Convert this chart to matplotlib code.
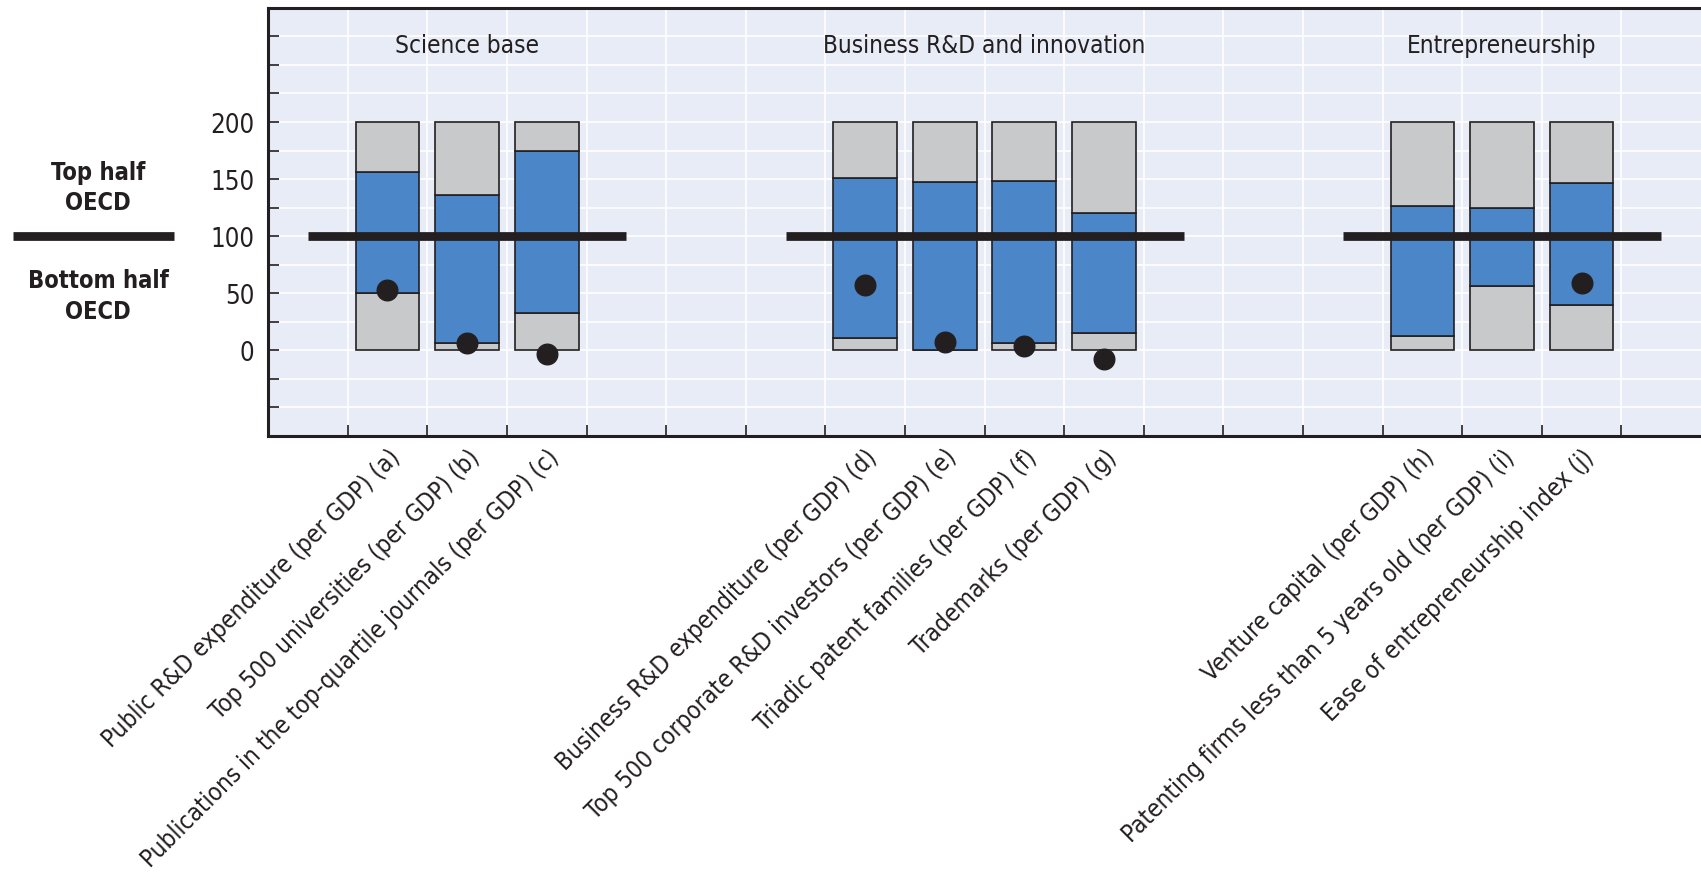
import numpy as np
import matplotlib
matplotlib.use("Agg")
import matplotlib.pyplot as plt
import matplotlib.transforms as mtransforms
from matplotlib.lines import Line2D

plt.rcParams['font.family'] = ['Liberation Sans Narrow', 'DejaVu Sans']
plt.rcParams['font.stretch'] = 'condensed'

# indicators, grouped in three blocks
labels = [
    "Public R&D expenditure (per GDP) (a)",
    "Top 500 universities (per GDP) (b)",
    "Publications in the top-quartile journals (per GDP) (c)",
    "Business R&D expenditure (per GDP) (d)",
    "Top 500 corporate R&D investors (per GDP) (e)",
    "Triadic patent families (per GDP) (f)",
    "Trademarks (per GDP) (g)",
    "Venture capital (per GDP) (h)",
    "Patenting firms less than 5 years old (per GDP) (i)",
    "Ease of entrepreneurship index (j)",
]
slots = [0, 1, 2, 6, 7, 8, 9, 13, 14, 15]

# blue range inside the 0-200 band, and the country value
low = [50, 6.7, 32.4, 11.1, 0, 6.1, 15.5, 12.5, 56.3, 40]
high = [156.3, 135.9, 174.9, 151, 147.5, 148.7, 120, 126.2, 124.8, 146.6]
country = [52.8, 6.7, -3.5, 57.1, 7.6, 3.8, -7.3, np.nan, np.nan, 59.2]

groups = ["Science base", "Business R&D and innovation", "Entrepreneurship"]
group_span = [(0, 3), (6, 10), (13, 16)]
scale_max = 200
median = 100

bg = "#E8ECF6"
blue = "#4A86C8"
grey = "#C8C9CB"
ink = "#231F20"

fig = plt.figure(figsize=(17.01, 8.78), dpi=100)
ax = fig.add_axes([0.1576, 0.5023, 0.8424, 0.4877])
ax.set_facecolor(bg)

x = np.array(slots) + 0.5
low = np.array(low)
high = np.array(high)
w = 0.8
ax.bar(x, low, width=w, color=grey, edgecolor=ink, linewidth=1.2, zorder=3)
ax.bar(x, high - low, bottom=low, width=w, color=blue, edgecolor=ink, linewidth=1.2, zorder=3)
ax.bar(x, scale_max - high, bottom=high, width=w, color=grey, edgecolor=ink, linewidth=1.2, zorder=3)

for a, b in group_span:
    ax.plot([a - 0.5, b + 0.5], [median, median], color=ink, lw=6.3,
            solid_capstyle='butt', zorder=4)

ax.scatter(x, country, s=220, color=ink, zorder=5)

for g, (a, b) in zip(groups, group_span):
    ax.text((a + b) / 2, 267, g, ha='center', va='center', fontsize=17.5, color=ink)

ax.set_xlim(-1, 17)
ax.set_ylim(-75, 300)
yt = np.arange(-50, 300, 25)
ax.set_yticks(yt)
ax.set_yticklabels([str(v) if 0 <= v <= 200 and v % 50 == 0 else "" for v in yt])
ax.set_xticks(np.arange(0, 17))
ax.set_xticklabels([])
ax.set_xticks(x, labels, minor=True)
ax.tick_params(axis='x', which='minor', length=0, pad=6)
ax.tick_params(axis='both', which='major', direction='in', length=8, width=1.2, color=ink)
ax.tick_params(axis='y', labelsize=18.5, pad=10, labelcolor=ink)
for t in ax.get_xticklabels(minor=True):
    t.set_rotation(45)
    t.set_ha('right')
    t.set_va('top')
    t.set_rotation_mode('anchor')
    t.set_fontsize(17.5)
    t.set_color(ink)

ax.grid(True, which='major', color='white', lw=1.2, zorder=0)
ax.set_axisbelow(True)
for s in ['left', 'top', 'bottom']:
    ax.spines[s].set_linewidth(2.2)
    ax.spines[s].set_color(ink)
ax.spines['right'].set_visible(False)

# key for the median line, left of the axis
tr = mtransforms.blended_transform_factory(fig.transFigure, ax.transData)
fig.add_artist(Line2D([0.0076, 0.102], [median, median], transform=tr, color=ink, lw=6.3,
                      solid_capstyle='butt'))
ax.text(0.0576, 143, "Top half\nOECD", transform=tr, ha='center', va='center',
        fontsize=17, fontweight='bold', color=ink, linespacing=1.35)
ax.text(0.0576, 48, "Bottom half\nOECD", transform=tr, ha='center', va='center',
        fontsize=17, fontweight='bold', color=ink, linespacing=1.35)

fig.savefig("out.png", dpi=100, facecolor='white')
